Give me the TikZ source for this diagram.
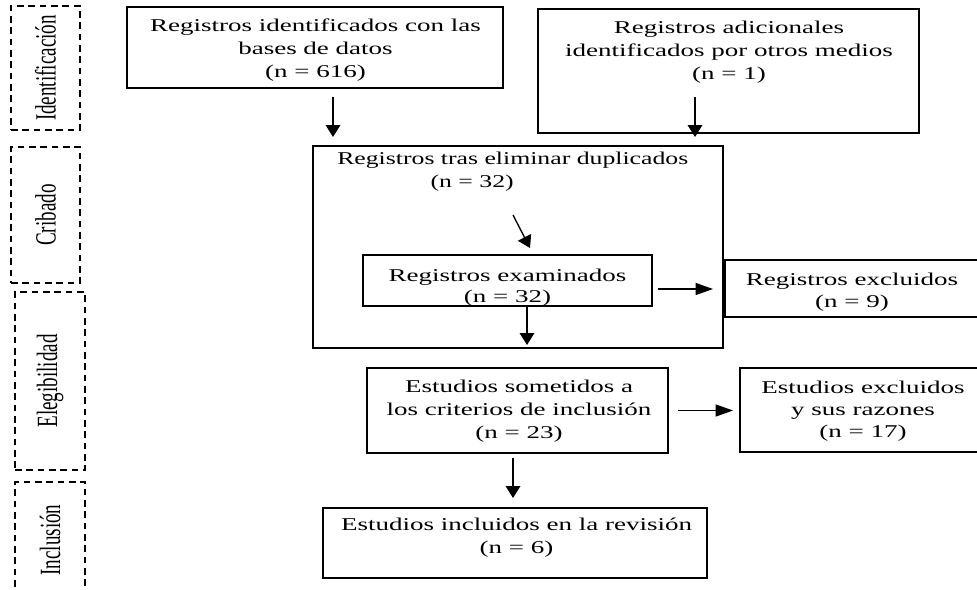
\documentclass[tikz,border=0pt]{standalone}
\usepackage{fontspec}
\setmainfont{Liberation Serif}[FakeStretch=1.5]
\newfontfamily\narrowfont{Liberation Serif}[FakeStretch=1.43]
\newfontfamily\vlabfont{Liberation Serif}[FakeStretch=0.65]
\usetikzlibrary{arrows.meta}
\begin{document}
\begin{tikzpicture}[x=0.75pt,y=-0.75pt,
  box/.style={draw, line width=1pt, inner sep=0pt, outer sep=0pt},
  openbox/.style={inner sep=0pt, outer sep=0pt},
  phase/.style={draw, line width=1.3pt, dash pattern=on 5pt off 3.5pt, inner sep=0pt, outer sep=0pt},
  phasetext/.style={inner sep=0pt, font=\vlabfont\fontsize{22pt}{22pt}\selectfont},
  txt/.style={align=center, inner sep=0pt, anchor=north, font=\fontsize{13.5pt}{17.25pt}\selectfont},
  varr/.style={line width=1pt, -{Triangle[length=9pt,width=11pt]}},
  harr/.style={line width=1pt, -{Triangle[length=13pt,width=9pt]}}
]
\useasboundingbox (0,0) rectangle (977,589);

% phase boxes (dashed)
\node[phase, minimum width=69*0.75pt, minimum height=124*0.75pt] (pid) at (45.5,68) {};
\node[phasetext] (tid) at (pid.center) {\rotatebox{90}{Identificación}};
\node[phase, minimum width=69*0.75pt, minimum height=136*0.75pt] (pcr) at (45.5,215) {};
\node[phasetext] (tcr) at (pcr.center) {\rotatebox{90}{Cribado}};
\node[phase, minimum width=70*0.75pt, minimum height=178*0.75pt] (pel) at (50,381) {};
\node[phasetext] (tel) at (pel.center) {\rotatebox{90}{Elegibilidad}};
\node[openbox, minimum width=70*0.75pt, minimum height=116*0.75pt] (pin) at (50,540) {};
\draw[line width=1.3pt, dash pattern=on 5pt off 3.5pt] (pin.south west) -- (pin.north west) -- (pin.north east) -- (pin.south east);
\node[phasetext] (tin) at (pin.center) {\rotatebox{90}{Inclusión}};

% main boxes
\node[box, minimum width=376*0.75pt, minimum height=81*0.75pt] (A) at (315,47.5) {};
\node[txt] (tA) at (315.5,18.5) {Registros identificados con las\\bases de datos\\(n = 616)};

\node[box, minimum width=381*0.75pt, minimum height=124*0.75pt] (B) at (728.5,71) {};
\node[txt] (tB) at (729,20.5) {Registros adicionales\\identificados por otros medios\\(n = 1)};

\node[box, minimum width=410*0.75pt, minimum height=202*0.75pt] (C) at (518,247) {};
\node[txt, align=left, anchor=north west, font=\narrowfont\fontsize{13.5pt}{17.25pt}\selectfont] (tC) at (337,151.5) {Registros tras eliminar duplicados\\\hspace*{70pt}(n = 32)};

\node[box, minimum width=289*0.75pt, minimum height=51*0.75pt] (D) at (507.5,280.5) {};
\node[txt, font=\fontsize{13.5pt}{16pt}\selectfont] (tD) at (507.5,268.5) {Registros examinados\\(n = 32)};

\node[openbox, minimum width=252*0.75pt, minimum height=57*0.75pt] (E) at (851,288.5) {};
\draw[line width=1pt] (E.north east) -- (E.north west) -- (E.south west) -- (E.south east);
\node[txt, font=\fontsize{13.5pt}{16.5pt}\selectfont] (tE) at (852,272.5) {Registros excluidos\\(n = 9)};

\node[box, minimum width=301*0.75pt, minimum height=85*0.75pt] (F) at (517.5,410.5) {};
\node[txt] (tF) at (519,379.5) {Estudios sometidos a\\los criterios de inclusión\\(n = 23)};

\node[openbox, minimum width=237*0.75pt, minimum height=84*0.75pt] (G) at (858.5,410) {};
\draw[line width=1pt] (G.north east) -- (G.north west) -- (G.south west) -- (G.south east);
\node[txt, font=\fontsize{13.5pt}{16.5pt}\selectfont] (tG) at (863,380.5) {Estudios excluidos\\y sus razones\\(n = 17)};

\node[box, minimum width=384*0.75pt, minimum height=70*0.75pt] (H) at (515,543) {};
\node[txt] (tH) at (516.5,517.5) {Estudios incluidos en la revisión\\(n = 6)};

% connectors
\coordinate (xa) at (333,0);
\draw[varr, shorten <=6.75pt, shorten >=6.75pt] (A.south -| xa) -- (C.north -| xa);
\coordinate (b1) at (695,97);
\draw[varr, shorten >=6.75pt] (b1) -- (C.north -| b1);
\coordinate (c1) at (513,215);
\coordinate (c2) at (530,248);
\draw[varr] (c1) -- (c2);
\coordinate (xd) at (527,0);
\draw[varr, shorten >=2.25pt] (D.south -| xd) -- (C.south -| xd);
\coordinate (yd) at (0,289);
\draw[harr, shorten <=4.5pt, shorten >=9pt] (D.east |- yd) -- (E.west |- yd);
\draw[harr, shorten <=7.5pt, shorten >=5.25pt] (F.east) -- (G.west |- F.east);
\coordinate (xf) at (513,0);
\draw[varr, shorten <=3.75pt, shorten >=7.5pt] (F.south -| xf) -- (H.north -| xf);
\end{tikzpicture}
\end{document}
